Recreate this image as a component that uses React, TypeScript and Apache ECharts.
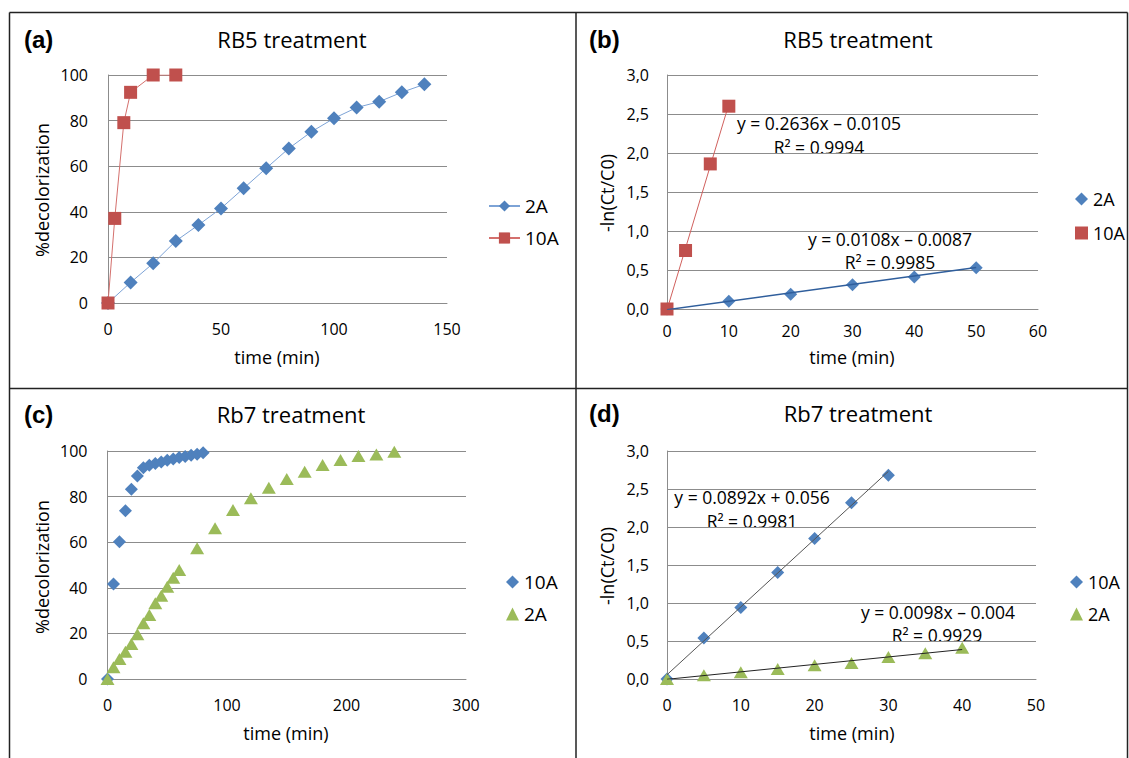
import React, { useEffect, useRef } from "react";
import * as echarts from "echarts";

// ---- Panel (a): RB5 %decolorization ----
const aTime2A = [0, 10, 20, 30, 40, 50, 60, 70, 80, 90, 100, 110, 120, 130, 140];
const aDecol2A = [0, 9, 17.4, 27.2, 34.2, 41.5, 50.3, 59.1, 67.8, 75.1, 81, 85.7, 88.3, 92.4, 95.9];
const aTime10A = [0, 3, 7, 10, 20, 30];
const aDecol10A = [0, 37.1, 79.1, 92.4, 100, 100];

// ---- Panel (b): RB5 -ln(Ct/C0) ----
const bTime2A = [0, 10, 20, 30, 40, 50];
const bLn2A = [0, 0.1, 0.19, 0.31, 0.41, 0.53];
const bTime10A = [0, 3, 7, 10];
const bLn10A = [0, 0.75, 1.86, 2.6];
const bTrendX2A = [0, 50];
const bTrendY2A = [-0.0087, 0.5313];
const bTrendX10A = [0, 10];
const bTrendY10A = [-0.0105, 2.6255];

// ---- Panel (c): Rb7 %decolorization ----
const cTime10A = [0, 5, 10, 15, 20, 25, 30, 35, 40, 45, 50, 55, 60, 65, 70, 75, 80];
const cDecol10A = [0, 41.7, 60.2, 73.8, 83.2, 89, 92.6, 93.7, 94.5, 95.2, 95.9, 96.5, 97.1, 97.6, 98.1, 98.6, 99.2];
const cTime2A = [0, 5, 10, 15, 20, 25, 30, 35, 40, 45, 50, 55, 60, 75, 90, 105, 120, 135, 150, 165, 180, 195, 210, 225, 240];
const cDecol2A = [0, 5.1, 8.8, 12, 15.4, 19.6, 24.4, 28.1, 33.2, 36.5, 40.5, 44.4, 47.8, 57.3, 66.1, 74.1, 79.3, 83.9, 87.7, 90.9, 93.9, 96, 97.8, 98.5, 99.7];

// ---- Panel (d): Rb7 -ln(Ct/C0) ----
const dTime10A = [0, 5, 10, 15, 20, 25, 30];
const dLn10A = [0, 0.54, 0.94, 1.4, 1.85, 2.32, 2.68];
const dTime2A = [0, 5, 10, 15, 20, 25, 30, 35, 40];
const dLn2A = [0, 0.05, 0.09, 0.13, 0.18, 0.21, 0.29, 0.34, 0.41];
const dTrendX10A = [0, 30];
const dTrendY10A = [0.056, 2.732];
const dTrendX2A = [0, 40];
const dTrendY2A = [-0.004, 0.388];

const panelLetters = ["(a)", "(b)", "(c)", "(d)"];
const panelTitles = ["RB5 treatment", "RB5 treatment", "Rb7 treatment", "Rb7 treatment"];
const yNames = ["%decolorization", "-ln(Ct/C0)", "%decolorization", "-ln(Ct/C0)"];
const xName = "time (min)";
const equations = [
  "y = 0.2636x – 0.0105",
  "R² = 0.9994",
  "y = 0.0108x – 0.0087",
  "R² = 0.9985",
  "y = 0.0892x + 0.056",
  "R² = 0.9981",
  "y = 0.0098x – 0.004",
  "R² = 0.9929",
];

const BLUE = "#4F81BD";
const RED = "#C0504D";
const GREEN = "#9BBB59";
const GRID = "#8C8C8C";
const FONT = "'Open Sans', 'Noto Sans', sans-serif";

const zip = (xs: number[], ys: number[]) => xs.map((x, i) => [x, ys[i]]);
const comma = (v: number) => v.toFixed(1).replace(".", ",");

function xAxis(gridIndex: number, max: number, interval: number, margin: number) {
  return {
    type: "value",
    gridIndex,
    min: 0,
    max,
    interval,
    axisLine: { show: true, lineStyle: { color: GRID, width: 1 } },
    axisTick: { show: false },
    splitLine: { show: false },
    axisLabel: { fontSize: 16, color: "#000", margin, fontFamily: FONT },
  };
}

function yAxis(gridIndex: number, max: number, interval: number, margin: number, fmt?: (v: number) => string) {
  return {
    type: "value",
    gridIndex,
    min: 0,
    max,
    interval,
    axisLine: { show: true, lineStyle: { color: GRID, width: 1 } },
    axisTick: { show: false },
    splitLine: { show: true, lineStyle: { color: GRID, width: 1 } },
    axisLabel: { fontSize: 16, color: "#000", margin, fontFamily: FONT, formatter: fmt },
  };
}

function txt(x: number, y: number, text: string, size: number, opts: any = {}) {
  return {
    type: "text",
    x,
    y,
    rotation: opts.rotation || 0,
    silent: true,
    style: {
      text,
      fontSize: size,
      fontFamily: opts.family || FONT,
      fontWeight: opts.bold ? "bold" : "normal",
      fill: "#000",
      align: opts.align || "center",
      verticalAlign: "middle",
    },
  };
}

function line(x1: number, y1: number, x2: number, y2: number) {
  return {
    type: "line",
    silent: true,
    shape: { x1, y1, x2, y2 },
    style: { stroke: "#222", lineWidth: 1.5 },
  };
}

export default function App() {
  const ref = useRef<HTMLDivElement>(null);
  useEffect(() => {
    if (!ref.current) return;
    const chart = echarts.init(ref.current, undefined, { renderer: "svg" });
    const legendText = { fontSize: 19, lineHeight: 19, color: "#000", fontFamily: FONT };
    const legendTextSm = { fontSize: 18, lineHeight: 19, color: "#000", fontFamily: FONT };
    const option: any = {
      animation: false,
      backgroundColor: "#fff",
      grid: [
        { left: 108, top: 75, width: 339, height: 228 },
        { left: 667, top: 75, width: 371, height: 234 },
        { left: 107.5, top: 451, width: 358.5, height: 228 },
        { left: 667, top: 451, width: 369, height: 228 },
      ],
      xAxis: [
        xAxis(0, 150, 50, 18),
        xAxis(1, 60, 10, 14),
        xAxis(2, 300, 100, 18),
        xAxis(3, 50, 10, 18),
      ],
      yAxis: [
        yAxis(0, 100, 20, 20),
        yAxis(1, 3, 0.5, 18, comma),
        yAxis(2, 100, 20, 20),
        yAxis(3, 3, 0.5, 18, comma),
      ],
      legend: [
        {
          orient: "vertical",
          left: 488,
          top: 196.5,
          itemWidth: 31,
          itemHeight: 14,
          itemGap: 13,
          padding: 0,
          textStyle: legendText,
          data: ["2A", "10A"],
        },
        {
          orient: "vertical",
          left: 1075,
          top: 189.5,
          itemWidth: 13,
          itemHeight: 13,
          itemGap: 15,
          padding: 0,
          textStyle: legendTextSm,
          data: [
            { name: "2A", icon: "diamond", itemStyle: { color: BLUE } },
            { name: "10A", icon: "rect", itemStyle: { color: RED } },
          ],
        },
        {
          orient: "vertical",
          left: 506,
          top: 572.5,
          itemWidth: 13,
          itemHeight: 13,
          itemGap: 13,
          padding: 0,
          textStyle: legendText,
          data: [
            { name: "10A", icon: "diamond", itemStyle: { color: BLUE } },
            { name: "2A", icon: "triangle", itemStyle: { color: GREEN } },
          ],
        },
        {
          orient: "vertical",
          left: 1070,
          top: 572.5,
          itemWidth: 13,
          itemHeight: 13,
          itemGap: 13,
          padding: 0,
          textStyle: legendTextSm,
          data: [
            { name: "10A", icon: "diamond", itemStyle: { color: BLUE } },
            { name: "2A", icon: "triangle", itemStyle: { color: GREEN } },
          ],
        },
      ],
      series: [
        // (a)
        {
          name: "2A",
          type: "line",
          xAxisIndex: 0,
          yAxisIndex: 0,
          data: zip(aTime2A, aDecol2A),
          symbol: "diamond",
          symbolSize: 14,
          itemStyle: { color: BLUE, opacity: 1 },
          lineStyle: { color: "#7DA3D6", width: 1 },
          z: 3,
        },
        {
          name: "10A",
          type: "line",
          xAxisIndex: 0,
          yAxisIndex: 0,
          data: zip(aTime10A, aDecol10A),
          symbol: "rect",
          symbolSize: 13,
          itemStyle: { color: RED, opacity: 1 },
          lineStyle: { color: "#D4706D", width: 1 },
          z: 4,
        },
        // (b)
        {
          name: "b-2A",
          type: "scatter",
          xAxisIndex: 1,
          yAxisIndex: 1,
          data: zip(bTime2A, bLn2A),
          symbol: "diamond",
          symbolSize: 13,
          itemStyle: { color: BLUE, opacity: 1 },
          z: 3,
        },
        {
          name: "b-10A",
          type: "scatter",
          xAxisIndex: 1,
          yAxisIndex: 1,
          data: zip(bTime10A, bLn10A),
          symbol: "rect",
          symbolSize: 13,
          itemStyle: { color: RED, opacity: 1 },
          z: 4,
        },
        {
          name: "b-trend-2A",
          type: "line",
          xAxisIndex: 1,
          yAxisIndex: 1,
          data: zip(bTrendX2A, bTrendY2A),
          symbol: "none",
          lineStyle: { color: "#2F5E9C", width: 1.5 },
          z: 5,
        },
        {
          name: "b-trend-10A",
          type: "line",
          xAxisIndex: 1,
          yAxisIndex: 1,
          data: zip(bTrendX10A, bTrendY10A),
          symbol: "none",
          lineStyle: { color: "#D0605D", width: 1 },
          z: 2,
        },
        // (c)
        {
          name: "c-10A",
          type: "scatter",
          xAxisIndex: 2,
          yAxisIndex: 2,
          data: zip(cTime10A, cDecol10A),
          symbol: "diamond",
          symbolSize: 13,
          itemStyle: { color: BLUE, opacity: 1 },
          z: 3,
        },
        {
          name: "c-2A",
          type: "scatter",
          xAxisIndex: 2,
          yAxisIndex: 2,
          data: zip(cTime2A, cDecol2A),
          symbol: "triangle",
          symbolSize: [14, 12],
          itemStyle: { color: GREEN, opacity: 1 },
          z: 4,
        },
        // (d)
        {
          name: "d-10A",
          type: "scatter",
          xAxisIndex: 3,
          yAxisIndex: 3,
          data: zip(dTime10A, dLn10A),
          symbol: "diamond",
          symbolSize: 13,
          itemStyle: { color: BLUE, opacity: 1 },
          z: 3,
        },
        {
          name: "d-2A",
          type: "scatter",
          xAxisIndex: 3,
          yAxisIndex: 3,
          data: zip(dTime2A, dLn2A),
          symbol: "triangle",
          symbolSize: [14, 12],
          itemStyle: { color: GREEN, opacity: 1 },
          z: 4,
        },
        {
          name: "d-trend-10A",
          type: "line",
          xAxisIndex: 3,
          yAxisIndex: 3,
          data: zip(dTrendX10A, dTrendY10A),
          symbol: "none",
          lineStyle: { color: "#555", width: 1 },
          z: 5,
        },
        {
          name: "d-trend-2A",
          type: "line",
          xAxisIndex: 3,
          yAxisIndex: 3,
          data: zip(dTrendX2A, dTrendY2A),
          symbol: "none",
          lineStyle: { color: "#222", width: 1 },
          z: 5,
        },
      ],
      graphic: [
        // frame
        line(9.5, 12.5, 1127.5, 12.5),
        line(9.5, 12.5, 9.5, 760),
        line(1127.5, 12.5, 1127.5, 760),
        line(576, 12.5, 576, 760),
        line(9.5, 388.5, 1127.5, 388.5),
        // panel letters
        txt(24, 39, panelLetters[0], 24, { bold: true, align: "left", family: "'Liberation Sans', Arial, sans-serif" }),
        txt(589, 39, panelLetters[1], 24, { bold: true, align: "left", family: "'Liberation Sans', Arial, sans-serif" }),
        txt(24, 414, panelLetters[2], 24, { bold: true, align: "left", family: "'Liberation Sans', Arial, sans-serif" }),
        txt(589, 413, panelLetters[3], 24, { bold: true, align: "left", family: "'Liberation Sans', Arial, sans-serif" }),
        // titles
        txt(292, 39, panelTitles[0], 22),
        txt(858, 39, panelTitles[1], 22),
        txt(291, 414, panelTitles[2], 22),
        txt(858, 413, panelTitles[3], 22),
        // y names
        txt(42, 190, yNames[0], 18, { rotation: Math.PI / 2 }),
        txt(607, 193, yNames[1], 18, { rotation: Math.PI / 2 }),
        txt(42, 567, yNames[2], 18, { rotation: Math.PI / 2 }),
        txt(607, 566, yNames[3], 18, { rotation: Math.PI / 2 }),
        // x names
        txt(277, 357, xName, 18),
        txt(852, 357, xName, 18),
        txt(286, 733, xName, 18),
        txt(852, 733, xName, 18),
        // equations
        txt(819, 123, equations[0], 17.5),
        txt(819, 147, equations[1], 17.5),
        txt(890, 239, equations[2], 17.5),
        txt(890, 262, equations[3], 17.5),
        txt(752, 497, equations[4], 17.5),
        txt(752, 521, equations[5], 17.5),
        txt(938, 612, equations[6], 17.5),
        txt(937, 635, equations[7], 17.5),
      ],
    };
    chart.setOption(option);
    return () => chart.dispose();
  }, []);
  return (
    <div
      ref={ref}
      style={{ position: "absolute", left: 0, top: 0, width: 1129, height: 758, background: "#fff" }}
    />
  );
}
